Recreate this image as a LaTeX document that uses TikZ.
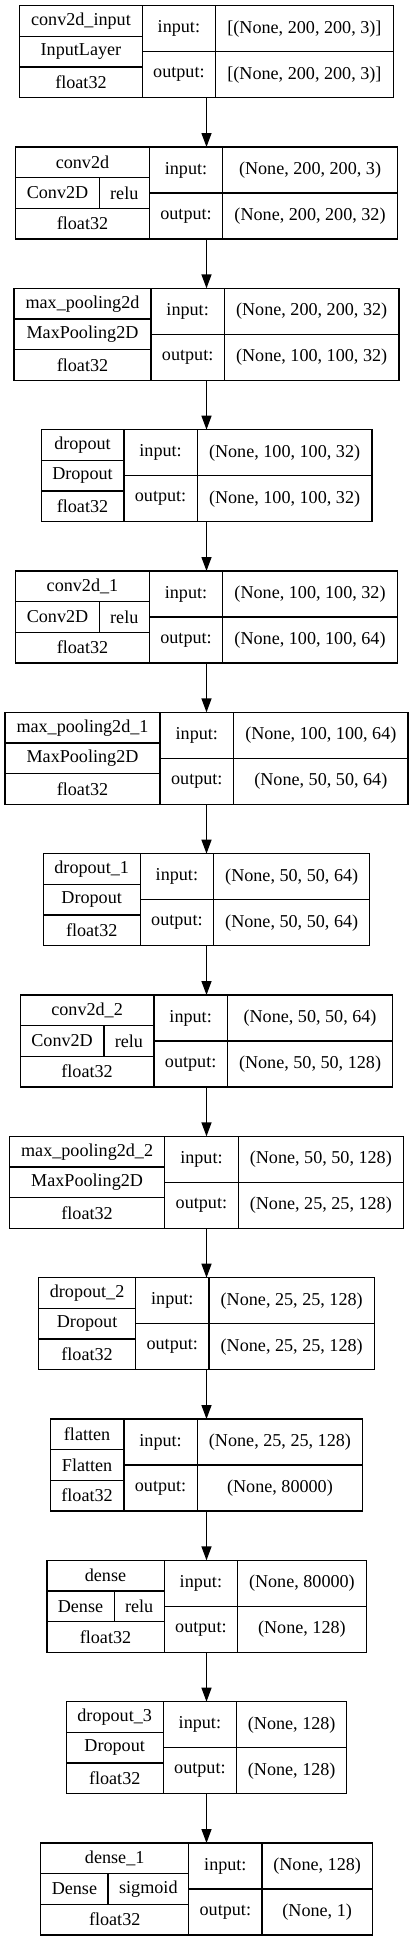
\documentclass[tikz,border=0pt]{standalone}
\usepackage{fontspec}
\setmainfont{Liberation Serif}
\usetikzlibrary{arrows.meta}

\begin{document}
\begin{tikzpicture}[x=1pt, y=1pt, font=\fontsize{13.6}{16.3}\selectfont,
  cell/.style={draw, line width=1pt, inner sep=0pt, outer sep=0pt, minimum height=23pt, anchor=north west},
  io/.style={cell, minimum height=34.5pt},
  arr/.style={line width=1pt, -{Triangle[length=10.5pt, width=7.5pt]}}]
\def\m{55.1}
\useasboundingbox (0, 0) rectangle (309.75, -1455.75);

% #1 id, #2 rank, #3 left col, #4 shape col, #5 name, #6 input, #7 output
\def\layer#1#2#3#4#5#6#7{
  \pgfmathsetmacro{\yt}{-4.25-106*#2}
  \pgfmathsetmacro{\wt}{#3+\m+#4}
  \pgfmathsetmacro{\xa}{154.875-\wt/2}
  \pgfmathsetmacro{\xb}{\xa+#3}
  \pgfmathsetmacro{\xc}{\xb+\m}
  \def\wl{#3}
  \node[cell, draw=none, minimum width=\wt pt, minimum height=69pt] (#1) at (\xa, \yt) {};
  \node[cell, minimum width=#3pt] (#1-name) at (\xa, \yt) {#5};
  \node[cell, minimum width=#3pt] (#1-dt) at (\xa, \yt-46) {float32};
  \node[io, minimum width=\m pt] (#1-in) at (\xb, \yt) {input:};
  \node[io, minimum width=\m pt] (#1-out) at (\xb, \yt-34.5) {output:};
  \node[io, minimum width=#4pt] (#1-ins) at (\xc, \yt) {#6};
  \node[io, minimum width=#4pt] (#1-outs) at (\xc, \yt-34.5) {#7};
}
% class row, plain or split with activation
\def\cls#1#2{
  \node[cell, minimum width=\wl pt] (#1-cls) at (\xa, \yt-23) {#2};
}
\def\clsact#1#2#3#4{
  \node[cell, minimum width=#2pt] (#1-cls) at (\xa, \yt-23) {#3};
  \node[cell, minimum width=\wl pt-#2pt] (#1-act) at (\xa+#2, \yt-23) {#4};
}

\layer{b1}{0}{91.8}{133.2}{conv2d\_input}{[(None, 200, 200, 3)]}{[(None, 200, 200, 3)]}
\cls{b1}{InputLayer}
\layer{b2}{1}{100.2}{130.9}{conv2d}{(None, 200, 200, 3)}{(None, 200, 200, 32)}
\clsact{b2}{62.7}{Conv2D}{relu}
\layer{b3}{2}{102.6}{130.9}{max\_pooling2d}{(None, 200, 200, 32)}{(None, 100, 100, 32)}
\cls{b3}{MaxPooling2D}
\layer{b4}{3}{62.0}{130.9}{dropout}{(None, 100, 100, 32)}{(None, 100, 100, 32)}
\cls{b4}{Dropout}
\layer{b5}{4}{100.2}{130.9}{conv2d\_1}{(None, 100, 100, 32)}{(None, 100, 100, 64)}
\clsact{b5}{62.7}{Conv2D}{relu}
\layer{b6}{5}{116.4}{130.9}{max\_pooling2d\_1}{(None, 100, 100, 64)}{(None, 50, 50, 64)}
\cls{b6}{MaxPooling2D}
\layer{b7}{6}{72.7}{117.1}{dropout\_1}{(None, 50, 50, 64)}{(None, 50, 50, 64)}
\cls{b7}{Dropout}
\layer{b8}{7}{100.2}{124.0}{conv2d\_2}{(None, 50, 50, 64)}{(None, 50, 50, 128)}
\clsact{b8}{62.7}{Conv2D}{relu}
\layer{b9}{8}{116.4}{124.0}{max\_pooling2d\_2}{(None, 50, 50, 128)}{(None, 25, 25, 128)}
\cls{b9}{MaxPooling2D}
\layer{b10}{9}{72.7}{124.0}{dropout\_2}{(None, 25, 25, 128)}{(None, 25, 25, 128)}
\cls{b10}{Dropout}
\layer{b11}{10}{55.1}{124.0}{flatten}{(None, 25, 25, 128)}{(None, 80000)}
\cls{b11}{Flatten}
\layer{b12}{11}{88.0}{96.4}{dense}{(None, 80000)}{(None, 128)}
\clsact{b12}{50.5}{Dense}{relu}
\layer{b13}{12}{72.7}{82.6}{dropout\_3}{(None, 128)}{(None, 128)}
\cls{b13}{Dropout}
\layer{b14}{13}{110.9}{82.6}{dense\_1}{(None, 128)}{(None, 1)}
\clsact{b14}{50.5}{Dense}{sigmoid}

\foreach \a/\b in {b1/b2, b2/b3, b3/b4, b4/b5, b5/b6, b6/b7, b7/b8,
  b8/b9, b9/b10, b10/b11, b11/b12, b12/b13, b13/b14}
  \draw[arr] (\a) -- (\b);
\end{tikzpicture}
\end{document}
